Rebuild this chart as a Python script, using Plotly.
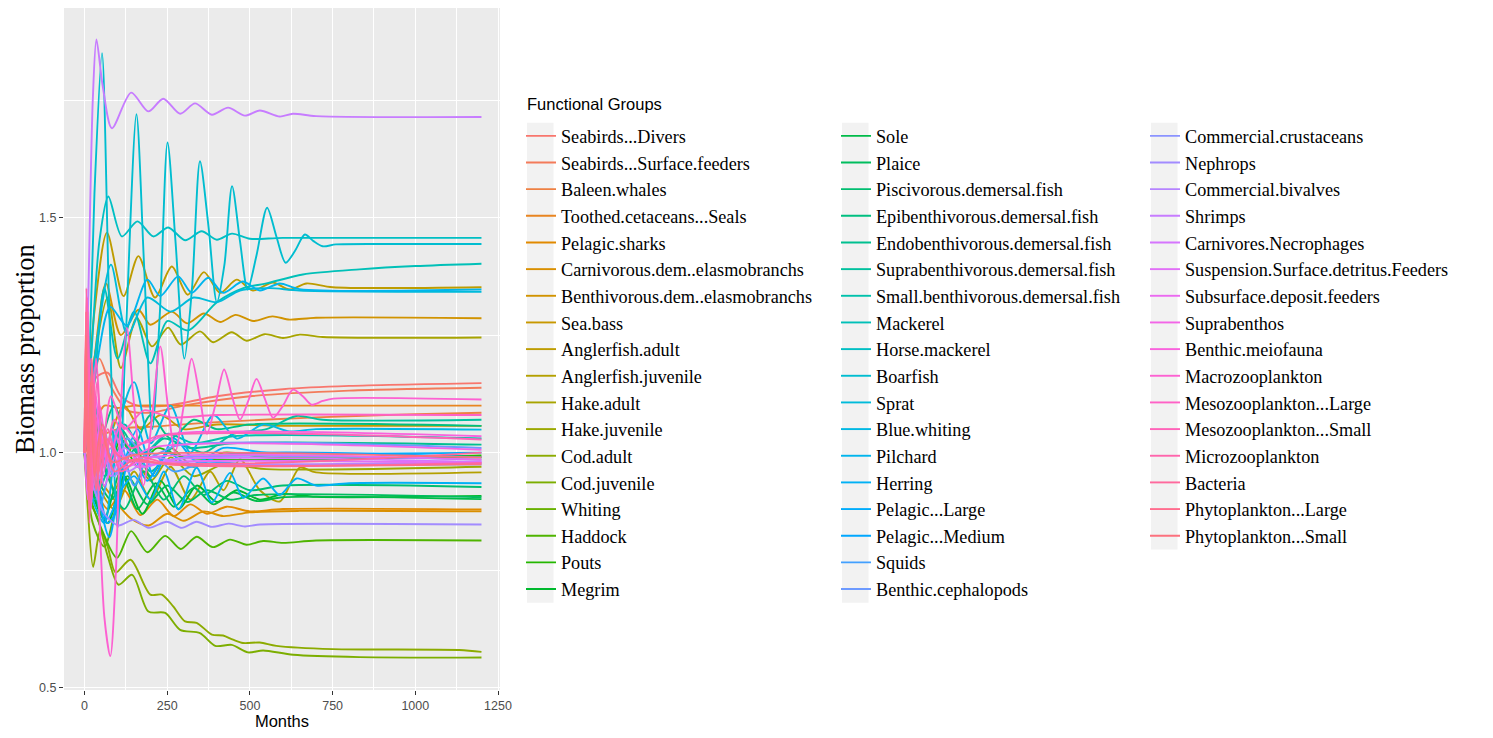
import math
import plotly.graph_objects as go

# ---- data: (month, biomass proportion) ----
seabirds_divers = [(0, 1.0), (15, 1.08), (35, 1.16), (70, 1.17), (110, 1.12), (160, 1.1), (250, 1.1), (400, 1.12), (600, 1.135), (800, 1.142), (1200, 1.148)]
seabirds_surface = [(0, 1.0), (20, 1.1), (45, 1.2), (80, 1.14), (130, 1.09), (200, 1.085), (300, 1.1), (500, 1.12), (800, 1.132), (1200, 1.138)]
baleen_whales = [(0, 1.0), (40, 1.03), (100, 1.05), (200, 1.055), (400, 1.065), (700, 1.075), (1000, 1.082), (1200, 1.085)]
toothed_seals = [(0, 1.0), (25, 1.05), (60, 1.1), (100, 1.095), (150, 1.1), (300, 1.1), (1200, 1.1)]
pelagic_sharks = [(0, 1.0), (30, 0.93), (70, 0.88), (120, 0.92), (169, 0.867), (220, 0.9), (270, 0.865), (320, 0.89), (370, 0.87), (430, 0.885), (500, 0.875), (600, 0.88), (1200, 0.879)]
carn_elasmo = [(0, 1.0), (40, 0.95), (90, 0.9), (140, 0.86), (194, 0.845), (250, 0.87), (300, 0.855), (360, 0.875), (420, 0.865), (500, 0.873), (650, 0.876), (1200, 0.875)]
benth_elasmo = [(0, 1.0), (30, 1.2), (65, 1.36), (110, 1.25), (163, 1.304), (199, 1.272), (264, 1.3), (310, 1.275), (361, 1.296), (410, 1.278), (457, 1.293), (510, 1.28), (568, 1.29), (620, 1.283), (700, 1.287), (1200, 1.286)]
sea_bass = [(0, 1.0), (30, 0.95), (70, 1.02), (120, 1.1), (170, 1.05), (230, 1.08), (300, 1.05), (400, 1.06), (600, 1.057), (1200, 1.057)]
angler_adult = [(0, 1.0), (30, 1.3), (68, 1.468), (118, 1.333), (163, 1.418), (213, 1.33), (264, 1.396), (312, 1.336), (361, 1.384), (410, 1.34), (460, 1.368), (509, 1.345), (569, 1.362), (620, 1.347), (671, 1.36), (750, 1.352), (1200, 1.352)]
angler_juv = [(0, 1.0), (40, 0.93), (90, 0.88), (150, 0.96), (200, 0.9), (260, 0.97), (320, 0.9), (380, 0.96), (420, 0.92), (470, 0.986), (530, 0.92), (590, 0.896), (651, 0.968), (700, 0.958), (1200, 0.958)]
hake_adult = [(0, 1.0), (30, 1.2), (70, 1.33), (110, 1.18), (158, 1.287), (204, 1.226), (253, 1.266), (291, 1.23), (349, 1.258), (389, 1.235), (445, 1.256), (490, 1.238), (545, 1.252), (600, 1.244), (651, 1.251), (720, 1.246), (1200, 1.245)]
hake_juv = [(0, 1.0), (20, 0.9), (50, 1.05), (90, 0.92), (140, 1.0), (200, 0.94), (260, 0.99), (330, 0.95), (420, 0.975), (550, 0.965), (1200, 0.97)]
cod_adult = [(0, 1.0), (10, 0.88), (26, 0.757), (48, 0.836), (70, 0.8), (94, 0.745), (139, 0.772), (199, 0.698), (234, 0.698), (268, 0.673), (304, 0.641), (339, 0.638), (385, 0.613), (419, 0.611), (449, 0.602), (479, 0.595), (530, 0.596), (580, 0.589), (750, 0.582), (1133, 0.58), (1200, 0.576)]
cod_juv = [(0, 1.0), (15, 0.9), (40, 0.86), (70, 0.78), (103, 0.719), (144, 0.74), (193, 0.662), (244, 0.659), (289, 0.623), (349, 0.616), (395, 0.589), (445, 0.591), (494, 0.575), (540, 0.579), (631, 0.57), (831, 0.565), (1200, 0.564)]
whiting = [(0, 1.0), (25, 0.85), (60, 0.8), (100, 0.9), (150, 1.02), (200, 0.95), (260, 1.01), (330, 0.97), (420, 1.0), (550, 0.99), (1200, 0.99)]
haddock = [(0, 1.0), (20, 0.9), (50, 0.84), (98, 0.776), (141, 0.833), (190, 0.788), (244, 0.823), (291, 0.795), (339, 0.821), (388, 0.799), (440, 0.815), (490, 0.804), (540, 0.812), (600, 0.808), (700, 0.813), (1200, 0.813)]
pouts = [(0, 1.0), (10, 1.15), (25, 0.9), (45, 1.08), (70, 0.95), (110, 1.03), (160, 0.97), (220, 1.01), (300, 0.99), (1200, 0.994)]
megrim = [(0, 1.0), (30, 0.9), (70, 0.85), (120, 0.95), (175, 0.87), (230, 0.94), (285, 0.88), (340, 0.93), (400, 0.895), (460, 0.92), (530, 0.9), (600, 0.912), (700, 0.906), (1200, 0.908)]
sole = [(0, 1.0), (25, 0.92), (60, 0.86), (110, 0.96), (160, 0.88), (215, 0.935), (270, 0.885), (330, 0.925), (390, 0.89), (450, 0.915), (520, 0.897), (600, 0.905), (1200, 0.901)]
plaice = [(0, 1.0), (35, 0.95), (80, 0.9), (130, 0.95), (190, 0.89), (250, 0.93), (310, 0.895), (370, 0.92), (440, 0.9), (520, 0.91), (1200, 0.905)]
pisci_dem = [(0, 1.0), (30, 1.05), (70, 0.95), (120, 0.88), (180, 0.96), (240, 0.9), (300, 0.95), (360, 0.91), (430, 0.94), (500, 0.92), (600, 0.93), (1200, 0.927)]
epibenth_dem = [(0, 1.0), (20, 0.92), (50, 1.02), (90, 1.1), (140, 1.0), (200, 1.08), (260, 1.03), (330, 1.07), (400, 1.05), (500, 1.06), (1200, 1.057)]
endobenth_dem = [(0, 1.0), (25, 1.08), (60, 0.95), (110, 1.05), (170, 0.99), (240, 1.03), (320, 1.01), (450, 1.02), (1200, 1.017)]
suprabenth_dem = [(0, 1.0), (30, 0.9), (80, 0.98), (130, 1.03), (200, 0.96), (280, 1.02), (360, 1.0), (450, 1.04), (550, 1.05), (640, 1.078), (720, 1.07), (1200, 1.07)]
small_benth_dem = [(0, 1.0), (30, 1.1), (70, 0.97), (120, 1.06), (180, 1.0), (250, 1.04), (330, 1.02), (450, 1.035), (1200, 1.03)]
mackerel = [(0, 1.0), (30, 1.15), (60, 1.35), (100, 1.2), (150, 1.3), (199, 1.19), (250, 1.28), (313, 1.26), (400, 1.32), (480, 1.35), (550, 1.36), (660, 1.379), (831, 1.39), (1000, 1.397), (1200, 1.402)]
horse_mackerel = [(0, 1.0), (20, 1.2), (45, 1.45), (72, 1.545), (113, 1.46), (160, 1.492), (208, 1.46), (253, 1.479), (304, 1.452), (354, 1.471), (400, 1.453), (446, 1.466), (500, 1.455), (600, 1.457), (1200, 1.457)]
boarfish = [(0, 1.0), (15, 1.2), (30, 1.55), (53, 1.85), (75, 1.3), (100, 0.84), (125, 1.25), (157, 1.72), (180, 1.4), (205, 1.05), (228, 1.3), (251, 1.66), (275, 1.45), (302, 1.2), (325, 1.35), (349, 1.62), (375, 1.48), (400, 1.32), (423, 1.4), (446, 1.567), (470, 1.45), (493, 1.347), (520, 1.42), (552, 1.521), (580, 1.46), (608, 1.404), (637, 1.43), (666, 1.464), (692, 1.45), (720, 1.439), (760, 1.443), (900, 1.444), (1200, 1.444)]
sprat = [(0, 1.0), (40, 1.25), (80, 1.4), (130, 1.25), (190, 1.33), (260, 1.3), (330, 1.33), (400, 1.32), (470, 1.345), (560, 1.35), (650, 1.345), (1200, 1.342)]
blue_whiting = [(0, 1.0), (25, 0.9), (60, 0.85), (100, 1.05), (150, 1.15), (200, 1.02), (260, 1.1), (320, 1.0), (390, 1.08), (460, 1.03), (540, 1.06), (620, 1.045), (700, 1.05), (1200, 1.049)]
pilchard = [(0, 1.0), (40, 1.2), (78, 1.31), (128, 1.27), (190, 1.368), (229, 1.333), (283, 1.375), (324, 1.34), (374, 1.372), (419, 1.34), (478, 1.364), (530, 1.345), (590, 1.36), (650, 1.348), (1200, 1.347)]
herring = [(0, 1.0), (30, 0.92), (70, 0.86), (110, 0.92), (150, 0.95), (200, 0.9), (240, 0.96), (284, 0.879), (339, 0.968), (385, 0.894), (440, 0.957), (480, 0.904), (540, 0.945), (590, 0.91), (641, 0.945), (700, 0.93), (800, 0.935), (1200, 0.935)]
pelagic_large = [(0, 1.0), (20, 1.15), (45, 0.9), (75, 0.82), (110, 0.95), (160, 1.05), (210, 0.95), (270, 1.03), (340, 0.98), (420, 1.01), (550, 1.0), (1200, 1.0)]
pelagic_medium = [(0, 1.0), (15, 1.1), (40, 0.95), (70, 0.85), (100, 0.88), (140, 1.0), (190, 0.94), (250, 1.0), (320, 0.97), (420, 0.995), (1200, 0.99)]
squids = [(0, 1.0), (10, 1.2), (25, 1.05), (45, 0.88), (70, 0.95), (100, 1.05), (150, 0.93), (200, 1.0), (270, 0.96), (360, 0.98), (500, 0.975), (1200, 0.975)]
benth_cephalopods = [(0, 1.0), (15, 1.12), (35, 0.92), (60, 1.05), (90, 0.95), (130, 1.03), (190, 0.99), (280, 1.015), (1200, 1.01)]
comm_crustaceans = [(0, 1.0), (20, 0.93), (50, 1.03), (90, 0.95), (140, 1.0), (200, 0.975), (300, 0.99), (1200, 0.985)]
nephrops = [(0, 1.0), (30, 0.92), (60, 0.87), (102, 0.845), (148, 0.857), (194, 0.84), (249, 0.853), (294, 0.84), (339, 0.853), (385, 0.842), (435, 0.849), (485, 0.843), (530, 0.847), (1200, 0.847)]
comm_bivalves = [(0, 1.0), (15, 1.05), (40, 0.94), (80, 1.01), (130, 0.96), (200, 0.99), (300, 0.978), (1200, 0.98)]
shrimps = [(0, 1.0), (12, 1.35), (25, 1.75), (36, 1.879), (55, 1.78), (83, 1.69), (141, 1.766), (193, 1.726), (238, 1.753), (289, 1.721), (334, 1.743), (385, 1.719), (434, 1.734), (485, 1.717), (530, 1.728), (590, 1.715), (630, 1.721), (700, 1.716), (1200, 1.714)]
carnivores_necro = [(0, 1.0), (10, 1.1), (25, 0.92), (50, 1.04), (80, 0.95), (120, 1.01), (180, 0.97), (260, 0.985), (1200, 0.98)]
suspension_feeders = [(0, 1.0), (8, 1.25), (18, 0.95), (35, 1.05), (60, 0.93), (100, 1.0), (160, 0.97), (250, 0.98), (1200, 0.978)]
subsurface_feeders = [(0, 1.0), (10, 0.9), (25, 1.1), (45, 0.95), (75, 1.03), (120, 0.97), (200, 0.99), (1200, 0.985)]
suprabenthos = [(0, 1.0), (8, 1.3), (20, 0.88), (35, 1.12), (55, 0.95), (85, 1.05), (130, 0.98), (200, 1.01), (1200, 1.006)]
meiofauna = [(0, 1.0), (10, 1.2), (25, 0.95), (45, 1.1), (75, 0.98), (110, 1.06), (170, 1.02), (260, 1.04), (1200, 1.035)]
macrozoo = [(0, 1.0), (20, 1.2), (40, 0.95), (60, 0.65), (78, 0.567), (95, 0.75), (110, 1.1), (128, 1.266), (150, 1.1), (178, 0.93), (205, 1.08), (229, 1.226), (252, 1.1), (274, 1.0), (300, 1.1), (324, 1.2), (348, 1.12), (370, 1.04), (395, 1.1), (422, 1.177), (446, 1.12), (470, 1.07), (495, 1.11), (520, 1.157), (545, 1.115), (570, 1.074), (600, 1.1), (630, 1.134), (660, 1.12), (686, 1.102), (720, 1.11), (752, 1.115), (1200, 1.113)]
mesozoo_large = [(0, 1.0), (8, 1.33), (20, 1.0), (35, 1.2), (55, 1.02), (80, 1.12), (120, 1.05), (180, 1.09), (260, 1.075), (400, 1.08), (1200, 1.08)]
mesozoo_small = [(0, 1.0), (10, 1.3), (22, 0.9), (38, 1.15), (60, 0.97), (90, 1.07), (140, 1.01), (220, 1.035), (1200, 1.028)]
microzoo = [(0, 1.0), (6, 1.35), (15, 0.85), (28, 1.15), (45, 0.92), (70, 1.05), (110, 0.96), (170, 0.99), (260, 0.975), (1200, 0.978)]
bacteria = [(0, 1.0), (6, 1.2), (14, 0.88), (25, 1.1), (40, 0.95), (65, 1.03), (110, 0.99), (1200, 1.0)]
phyto_large = [(0, 1.0), (5, 1.3), (12, 0.9), (22, 1.2), (35, 0.92), (55, 1.06), (90, 0.96), (150, 0.985), (250, 0.975), (1200, 0.975)]
phyto_small = [(0, 1.0), (4, 1.25), (10, 0.92), (18, 1.15), (30, 0.95), (50, 1.05), (85, 0.98), (150, 0.995), (1200, 0.99)]

GROUPS = [
    ("Seabirds...Divers", seabirds_divers), ("Seabirds...Surface.feeders", seabirds_surface),
    ("Baleen.whales", baleen_whales), ("Toothed.cetaceans...Seals", toothed_seals),
    ("Pelagic.sharks", pelagic_sharks), ("Carnivorous.dem..elasmobranchs", carn_elasmo),
    ("Benthivorous.dem..elasmobranchs", benth_elasmo), ("Sea.bass", sea_bass),
    ("Anglerfish.adult", angler_adult), ("Anglerfish.juvenile", angler_juv),
    ("Hake.adult", hake_adult), ("Hake.juvenile", hake_juv),
    ("Cod.adult", cod_adult), ("Cod.juvenile", cod_juv),
    ("Whiting", whiting), ("Haddock", haddock), ("Pouts", pouts), ("Megrim", megrim),
    ("Sole", sole), ("Plaice", plaice),
    ("Piscivorous.demersal.fish", pisci_dem), ("Epibenthivorous.demersal.fish", epibenth_dem),
    ("Endobenthivorous.demersal.fish", endobenth_dem), ("Suprabenthivorous.demersal.fish", suprabenth_dem),
    ("Small.benthivorous.demersal.fish", small_benth_dem), ("Mackerel", mackerel),
    ("Horse.mackerel", horse_mackerel), ("Boarfish", boarfish), ("Sprat", sprat),
    ("Blue.whiting", blue_whiting), ("Pilchard", pilchard), ("Herring", herring),
    ("Pelagic...Large", pelagic_large), ("Pelagic...Medium", pelagic_medium),
    ("Squids", squids), ("Benthic.cephalopods", benth_cephalopods),
    ("Commercial.crustaceans", comm_crustaceans), ("Nephrops", nephrops),
    ("Commercial.bivalves", comm_bivalves), ("Shrimps", shrimps),
    ("Carnivores.Necrophages", carnivores_necro), ("Suspension.Surface.detritus.Feeders", suspension_feeders),
    ("Subsurface.deposit.feeders", subsurface_feeders), ("Suprabenthos", suprabenthos),
    ("Benthic.meiofauna", meiofauna), ("Macrozooplankton", macrozoo),
    ("Mesozooplankton...Large", mesozoo_large), ("Mesozooplankton...Small", mesozoo_small),
    ("Microzooplankton", microzoo), ("Bacteria", bacteria),
    ("Phytoplankton...Large", phyto_large), ("Phytoplankton...Small", phyto_small),
]

X_TICKS = [0, 250, 500, 750, 1000, 1250]
Y_TICKS = [0.5, 1.0, 1.5]

# page body has an 8px margin, so layout pixels = screen pixels - 8
OFF = 8
W, H = 1493 - 2 * OFF, 738 - 2 * OFF
PL, PR, PT, PB = 64 - OFF, 500 - OFF, 8 - OFF, 690 - OFF   # panel box


def hue_pal(n, c=100, l=65):
    # ggplot2 default discrete palette (hcl wheel, polarLUV -> sRGB)
    xn, yn, zn = 95.047, 100.0, 108.883
    un = 4 * xn / (xn + 15 * yn + 3 * zn)
    vn = 9 * yn / (xn + 15 * yn + 3 * zn)
    out = []
    for i in range(n):
        h = math.radians(15 + 360 * i / n)
        u, v = c * math.cos(h), c * math.sin(h)
        y = yn * ((l + 16) / 116) ** 3
        up = u / (13 * l) + un
        vp = v / (13 * l) + vn
        x = 9 * y * up / (4 * vp)
        z = y * (12 - 3 * up - 20 * vp) / (4 * vp)
        x, y, z = x / 100, y / 100, z / 100
        rgb = [3.240479 * x - 1.537150 * y - 0.498535 * z,
               -0.969256 * x + 1.875992 * y + 0.041556 * z,
               0.055648 * x - 0.204043 * y + 1.057311 * z]
        ch = []
        for t in rgb:
            t = 12.92 * t if t <= 0.0031308 else 1.055 * t ** (1 / 2.4) - 0.055
            ch.append(int(round(min(max(t, 0), 1) * 255)))
        out.append('#%02X%02X%02X' % tuple(ch))
    return out


def px_x(px):  # screen px -> paper x
    return (px - OFF - PL) / (PR - PL)


def px_y(py):  # screen px -> paper y
    return (PB - (py - OFF)) / (PB - PT)


colors = hue_pal(len(GROUPS))
fig = go.Figure()
for i, (name, pts) in enumerate(GROUPS):
    col = i // 18
    fig.add_trace(go.Scatter(
        x=[p[0] for p in pts], y=[p[1] for p in pts],
        mode='lines', name=name, legendgroup=name,
        legend=['legend', 'legend2', 'legend3'][col],
        line=dict(color=colors[i], width=1.9, shape='spline', smoothing=0.8),
        hoverinfo='name+x+y'
    ))

# grey legend key strips (ggplot style)
KEY_TOP = 122.7
ROW = 26.67
shapes = []
for kx, nrows in [(527, 18), (842, 18), (1151, 16)]:
    shapes.append(dict(type='rect', xref='paper', yref='paper', layer='below',
                       x0=px_x(kx), x1=px_x(kx + 26.5),
                       y0=px_y(KEY_TOP), y1=px_y(KEY_TOP + nrows * ROW),
                       fillcolor='#F2F2F2', line=dict(width=0)))

leg_common = dict(
    bgcolor='rgba(0,0,0,0)', borderwidth=0, tracegroupgap=0,
    font=dict(family='Liberation Serif, Times New Roman, serif', size=18.2, color='#000000'),
    xanchor='left', yanchor='top', maxheight=700,
    itemclick=False, itemdoubleclick=False,
)

fig.update_layout(
    width=W, height=H,
    paper_bgcolor='white', plot_bgcolor='#EBEBEB',
    margin=dict(l=PL, r=W - PR, t=PT, b=H - PB, pad=0, autoexpand=False),
    font=dict(family='Liberation Sans, Arial, sans-serif', size=12, color='#4D4D4D'),
    showlegend=True,
    legend=dict(**leg_common, x=px_x(521), y=px_y(117.5)),
    legend2=dict(**leg_common, x=px_x(836), y=px_y(117.5)),
    legend3=dict(**leg_common, x=px_x(1145), y=px_y(117.5)),
    shapes=shapes,
    xaxis=dict(
        range=[-62, 1256], tickvals=X_TICKS, ticks='outside', ticklen=4, tickcolor='#333333',
        tickfont=dict(size=12.5, color='#4D4D4D'),
        showgrid=True, gridcolor='white', gridwidth=1.1, zeroline=False, showline=False,
        minor=dict(tickvals=[125, 375, 625, 875, 1125], showgrid=True, gridcolor='white', gridwidth=0.5, ticks=''),
        title=dict(text='Months', font=dict(size=16.5, color='#000000'), standoff=7),
    ),
    yaxis=dict(
        range=[0.495, 1.946], tickvals=Y_TICKS, ticktext=['0.5', '1.0', '1.5'],
        ticks='outside', ticklen=4, tickcolor='#333333',
        tickfont=dict(size=12.5, color='#4D4D4D'),
        showgrid=True, gridcolor='white', gridwidth=1.1, zeroline=False, showline=False,
        minor=dict(tickvals=[0.75, 1.25, 1.75], showgrid=True, gridcolor='white', gridwidth=0.5, ticks=''),
    ),
    annotations=[
        dict(text='Biomass proportion', textangle=-90, showarrow=False,
             xref='paper', yref='paper', x=px_x(8), y=px_y(349), xanchor='left', yanchor='middle',
             font=dict(family='Liberation Serif, Times New Roman, serif', size=26.5, color='#000000')),
        dict(text='Functional Groups', showarrow=False,
             xref='paper', yref='paper', x=px_x(525), y=px_y(104), xanchor='left', yanchor='middle',
             font=dict(family='Liberation Sans, Arial, sans-serif', size=16.5, color='#000000')),
    ],
)

fig.write_html("out.html")
